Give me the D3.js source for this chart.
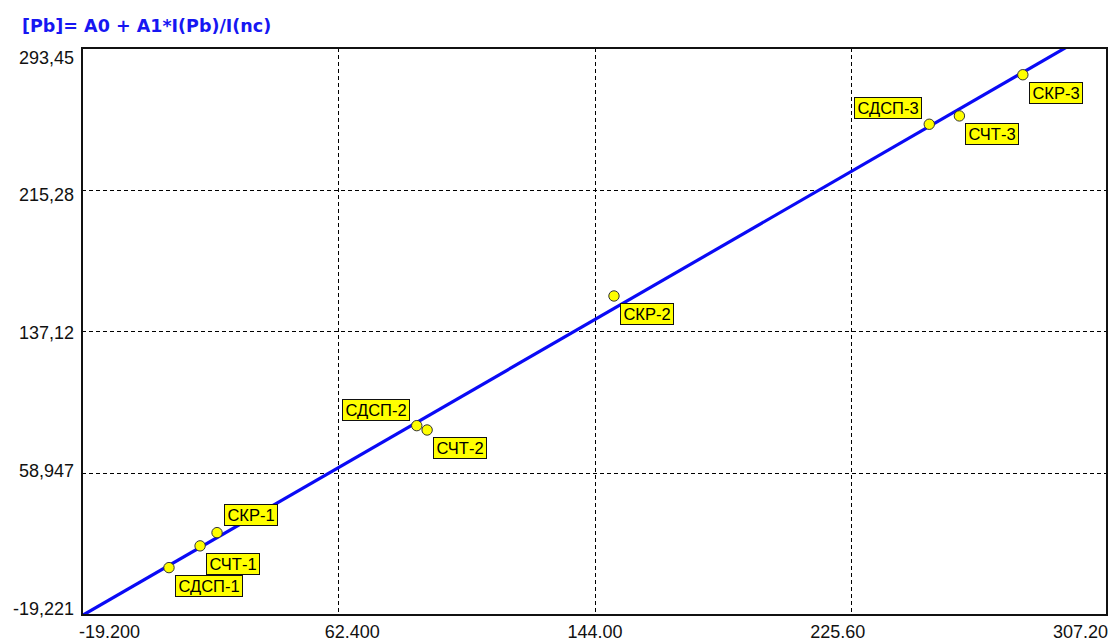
<!DOCTYPE html>
<html>
<head>
<meta charset="utf-8">
<script src="https://cdn.jsdelivr.net/npm/d3@7"></script>
<style>
  html, body { margin: 0; padding: 0; background: #ffffff; }
  svg { display: block; }
</style>
</head>
<body>
<script>
// Calibration: [Pb] = A0 + A1 * I(Pb)/I(nc)
const titleText = "[Pb]= A0 + A1*I(Pb)/I(nc)";

const xTicks = [-19.2, 62.4, 144.0, 225.6, 307.2];
const xTickLabels = ["-19.200", "62.400", "144.00", "225.60", "307.20"];
const yTicks = [-19.221, 58.947, 137.12, 215.28, 293.45];
const yTickLabels = ["-19,221", "58,947", "137,12", "215,28", "293,45"];

// Calibration samples
const sampleNames = ["СДСП-1", "СЧТ-1", "СКР-1", "СДСП-2", "СЧТ-2", "СКР-2", "СДСП-3", "СЧТ-3", "СКР-3"];
const sampleX = [8.5, 18.4, 23.8, 87.4, 90.7, 150.2, 250.6, 260.2, 280.4];
const sampleY = [6.9, 18.9, 26.2, 85.2, 82.8, 156.7, 251.4, 256.0, 278.7];
// where each label sits relative to its point: br = below-right, tr = above-right, tl = above-left
const labelSide = ["br", "br", "tr", "tl", "br", "br", "tl", "br", "br"];

// Regression coefficients
const A0 = -0.4;
const A1 = 1.0;

const W = 1111, H = 642;
const plot = { left: 82, right: 1107, top: 48, bottom: 615 };

const svg = d3.select("body").append("svg")
  .attr("width", W).attr("height", H);

const x = d3.scaleLinear().domain([xTicks[0], xTicks[xTicks.length - 1]]).range([plot.left, plot.right]);
const y = d3.scaleLinear().domain([yTicks[0], yTicks[yTicks.length - 1]]).range([plot.bottom, plot.top]);

const axisFont = "'Liberation Sans', Arial, sans-serif";

// Title
svg.append("text")
  .attr("x", 22).attr("y", 32)
  .attr("font-family", "'DejaVu Sans', Verdana, sans-serif")
  .attr("font-weight", "bold")
  .attr("font-size", 17.5)
  .attr("fill", "#1717f2")
  .text(titleText);

// Dashed grid
const grid = svg.append("g").attr("stroke", "#000").attr("stroke-width", 1)
  .attr("stroke-dasharray", "4,3").attr("shape-rendering", "crispEdges");
grid.selectAll("line.v").data(xTicks.slice(1, -1)).join("line")
  .attr("class", "v")
  .attr("x1", d => Math.round(x(d)) + 0.5).attr("x2", d => Math.round(x(d)) + 0.5)
  .attr("y1", plot.top).attr("y2", plot.bottom);
grid.selectAll("line.h").data(yTicks.slice(1, -1)).join("line")
  .attr("class", "h")
  .attr("y1", d => Math.round(y(d)) + 0.5).attr("y2", d => Math.round(y(d)) + 0.5)
  .attr("x1", plot.left).attr("x2", plot.right);

// Regression line, clipped to the plot area
svg.append("clipPath").attr("id", "plotClip")
  .append("rect")
  .attr("x", plot.left).attr("y", plot.top)
  .attr("width", plot.right - plot.left).attr("height", plot.bottom - plot.top);

const fitX = x.domain();
const line = d3.line().x(d => x(d)).y(d => y(A0 + A1 * d));
svg.append("path")
  .datum(fitX)
  .attr("clip-path", "url(#plotClip)")
  .attr("d", line)
  .attr("fill", "none")
  .attr("stroke", "#0a0af5")
  .attr("stroke-width", 3.2);

// Plot frame
svg.append("rect")
  .attr("x", plot.left).attr("y", plot.top)
  .attr("width", plot.right - plot.left).attr("height", plot.bottom - plot.top)
  .attr("fill", "none").attr("stroke", "#111").attr("stroke-width", 2);

// Y tick labels, spread evenly between the top and bottom positions
const yLab = svg.append("g")
  .attr("font-family", axisFont).attr("font-size", 18).attr("fill", "#111")
  .attr("text-anchor", "end");
const yTop = y(yTicks[yTicks.length - 1]) + 15.5;
const yBot = y(yTicks[0]) - 0.5;
yLab.selectAll("text").data(yTickLabels).join("text")
  .attr("x", plot.left - 8)
  .attr("y", (d, i) => yBot + (yTop - yBot) * i / (yTickLabels.length - 1))
  .text(d => d);

// X tick labels: first aligned to the left edge, last to the right edge, others spread evenly
const xLab = svg.append("g")
  .attr("font-family", axisFont).attr("font-size", 18).attr("fill", "#111")
  .attr("text-anchor", "middle");
const xTexts = xLab.selectAll("text").data(xTickLabels).join("text")
  .attr("y", 638)
  .text(d => d);
const widths = xTexts.nodes().map(n => n.getComputedTextLength());
const cFirst = x(xTicks[0]) - 3 + widths[0] / 2;
const cLast = x(xTicks[xTicks.length - 1]) + 1 - widths[widths.length - 1] / 2;
xTexts.attr("x", (d, i) => cFirst + (cLast - cFirst) * i / (xTickLabels.length - 1));

// Sample points
const samples = sampleNames.map((name, i) => ({ name, vx: sampleX[i], vy: sampleY[i], side: labelSide[i] }));

svg.append("g").selectAll("circle").data(samples).join("circle")
  .attr("cx", d => x(d.vx)).attr("cy", d => y(d.vy))
  .attr("r", 5.2)
  .attr("fill", "#ffff00")
  .attr("stroke", "#333")
  .attr("stroke-width", 1);

// Sample labels
const boxH = 21, padX = 3;
const labels = svg.append("g").selectAll("g").data(samples).join("g");
labels.append("text")
  .attr("font-family", axisFont).attr("font-size", 16.5).attr("fill", "#000")
  .attr("text-anchor", "middle")
  .text(d => d.name);
labels.each(function(d) {
  const g = d3.select(this);
  const tw = g.select("text").node().getComputedTextLength();
  const bw = Math.round(tw + 2 * padX);
  const px = x(d.vx), py = y(d.vy);
  let bx, by;
  if (d.side === "br") { bx = px + 6; by = py + 7; }
  else if (d.side === "tr") { bx = px + 7; by = py - 8 - boxH; }
  else { bx = px - 8 - bw; by = py - 6 - boxH; }
  bx = Math.round(bx) + 0.5; by = Math.round(by) + 0.5;
  g.insert("rect", "text")
    .attr("x", bx).attr("y", by).attr("width", bw).attr("height", boxH)
    .attr("fill", "#ffff00").attr("stroke", "#111").attr("stroke-width", 1);
  g.select("text").attr("x", bx + bw / 2).attr("y", by + 16.5);
});
</script>
</body>
</html>
